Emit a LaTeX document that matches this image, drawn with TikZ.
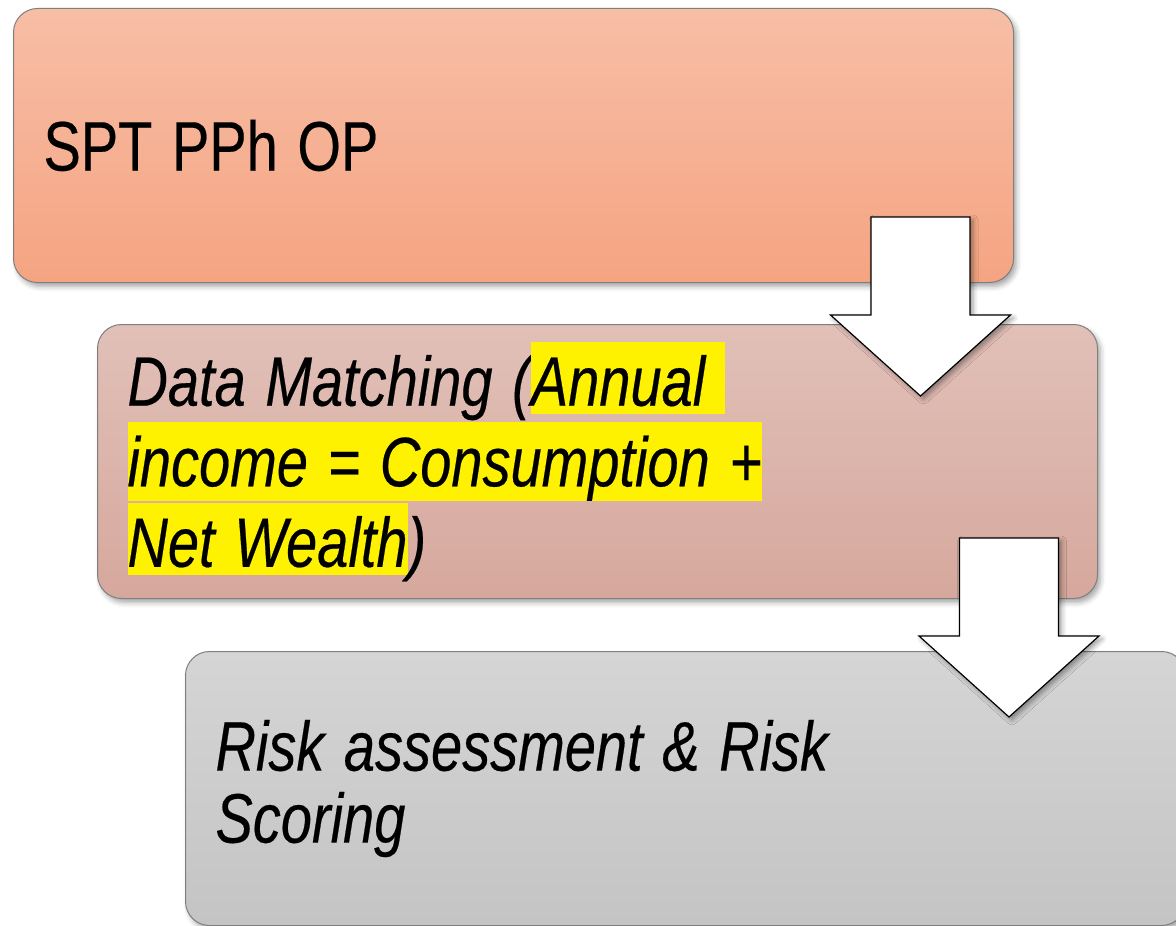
\documentclass[tikz,border=0pt]{standalone}
\usepackage{fontspec}
\newfontfamily\boxfont{Liberation Sans}[FakeStretch=0.8, FakeBold=0.3]
\usetikzlibrary{positioning, shadows.blur}
\definecolor{spttop}{HTML}{F7BEA6}
\definecolor{sptbot}{HTML}{F5A482}
\definecolor{matchtop}{HTML}{E1C0B8}
\definecolor{matchbot}{HTML}{D6A89D}
\definecolor{risktop}{HTML}{D5D5D5}
\definecolor{riskbot}{HTML}{C4C4C4}
\definecolor{boxline}{HTML}{7F7F7F}
\newlength{\stagespace}
\setlength{\stagespace}{9.8pt plus 3pt minus 2pt}
\DeclareRobustCommand{\stagefont}{\boxfont\fontsize{35}{36}\selectfont}
\newcommand{\hilite}[1]{{\setlength{\fboxsep}{0pt}\colorbox{yellow}{\rule[-4pt]{0pt}{36pt}#1}}}
\tikzset{
    stagebox/.style={
        rectangle, rounded corners=12pt, draw=boxline, line width=0.5pt,
        minimum width=500pt, minimum height=137pt,
        text width=470pt, inner xsep=15pt, align=left,
        font=\stagefont, execute at begin node={\spaceskip=\stagespace},
        blur shadow={shadow xshift=1.5pt, shadow yshift=-2pt, shadow blur radius=2.5pt, shadow opacity=35}
    },
    blockarrow/.style={
        draw=black, line width=0.6pt, fill=white, line join=miter,
        blur shadow={shadow xshift=1.5pt, shadow yshift=-1.5pt, shadow blur radius=2.5pt, shadow opacity=40}
    }
}

\begin{document}
\begin{tikzpicture}[x=1pt, y=1pt]

\useasboundingbox (0,0) rectangle (588,-462.5);

% Stages
\node[stagebox, top color=spttop, bottom color=sptbot, anchor=north west] (spt) at (6.5,-4) {SPT PPh OP};

\node[stagebox, top color=matchtop, bottom color=matchbot,
      below=20.5pt of spt.south west, anchor=north west, xshift=42pt] (match)
    {\itshape Data Matching (\hilite{Annual }\\
     \hilite{income = Consumption +}\\
     \hilite{Net Wealth})};

\node[stagebox, top color=risktop, bottom color=riskbot,
      below=26pt of match.south west, anchor=north west, xshift=44pt] (risk)
    {\itshape Risk assessment \& Risk\\Scoring};

% Block arrows
\coordinate (a1) at ([xshift=-46.75pt, yshift=33pt]spt.south east);
\coordinate (a2) at ([xshift=-44.5pt, yshift=30.5pt]match.south east);

\path[blockarrow] (a1) +(-24.75,0) -- +(24.75,0) -- +(24.75,-49) -- +(45,-49)
    -- +(0,-89.5) -- +(-45,-49) -- +(-24.75,-49) -- cycle;
\path[blockarrow] (a2) +(-24.75,0) -- +(24.75,0) -- +(24.75,-49) -- +(45,-49)
    -- +(0,-89.5) -- +(-45,-49) -- +(-24.75,-49) -- cycle;

\end{tikzpicture}
\end{document}
